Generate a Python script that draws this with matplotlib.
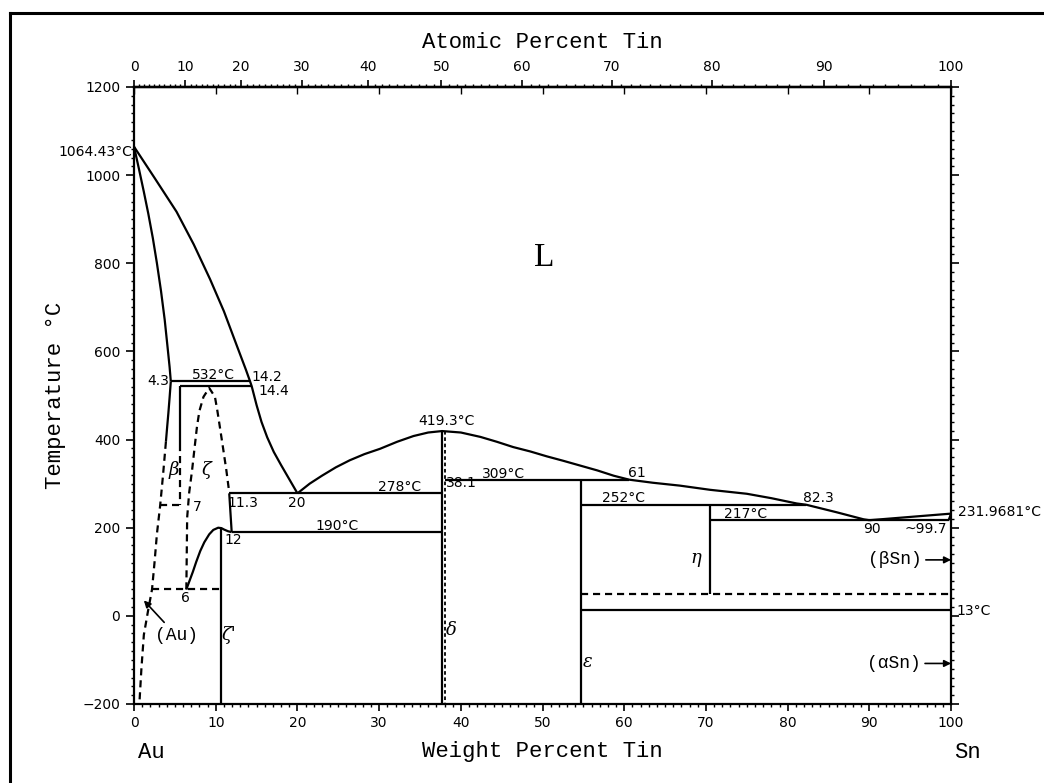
import numpy as np
import matplotlib
matplotlib.use("Agg")
import matplotlib.pyplot as plt
from matplotlib.lines import Line2D
from matplotlib.ticker import MultipleLocator

# ---- phase boundary data (weight % Sn, temperature C) ----
liq_au_wt = [0, 2.5, 5.2, 7.3, 9.3, 11.0, 12.6, 13.7, 14.2, 14.4, 15.0, 15.6,
             16.3, 17.1, 18.0, 19.0, 20.0]
liq_au_T = [1064.43, 994, 917, 843, 764, 691, 612, 558, 532, 521, 478, 440,
            405, 372, 342, 310, 278]

sol_au_wt = [0, 0.6, 1.2, 1.75, 2.3, 2.8, 3.3, 3.75, 4.1, 4.35, 4.5]
sol_au_T = [1064.43, 1014, 962, 912, 857, 800, 737, 672, 610, 565, 532]

solvus_solid_wt = [4.5, 4.35, 4.2, 4.05, 3.9]
solvus_solid_T = [532, 495, 460, 428, 395]
solvus_dash_wt = [3.9, 3.55, 3.2, 2.8, 2.5, 2.2, 1.7, 1.2, 0.9, 0.65]
solvus_dash_T = [395, 320, 251, 186, 120, 60, 10, -43, -120, -200]

beta_solid_wt = [5.6, 5.6]
beta_solid_T = [521, 391]
beta_dash_wt = [5.6, 5.6]
beta_dash_T = [391, 251]

zeta_wt = [6.4, 6.45, 6.5, 6.75, 7.1, 7.4, 7.7, 8.0, 8.5, 9.2, 9.9, 10.2,
           10.5, 10.9, 11.3, 11.65]
zeta_T = [60, 140, 223, 280, 330, 380, 429, 465, 497, 517, 497, 465,
          429, 380, 330, 280]

zeta_right_wt = [11.65, 11.95]
zeta_right_T = [278, 190]

zeta_p_wt = [6.4, 6.8, 7.2, 7.6, 8.1, 8.6, 9.2, 9.7, 10.3, 10.7, 11.0, 11.5,
             11.95]
zeta_p_T = [60, 80, 100, 122, 147, 167, 185, 195, 200, 199, 196, 192, 190]

liq_mid_wt = [20.0, 21.5, 23.0, 24.7, 26.4, 28.2, 30.1, 32.2, 34.2, 36.0,
              37.7, 40.0, 42.4, 44.4, 46.4, 48.5, 50.5, 52.5, 54.6, 56.7,
              58.7, 60.6, 63.5, 66.8, 70.5, 75.0, 78.0, 81.1, 82.3, 86.0,
              89.3, 90.0]
liq_mid_T = [278, 300, 318, 337, 353, 367, 379, 395, 408, 416,
             419.3, 416, 406, 395, 383, 373, 362, 352, 341, 330,
             318, 309, 302, 295.5, 286, 277, 267, 255, 252, 235,
             219, 217]

liq_sn_wt = [90.0, 100.0]
liq_sn_T = [217, 231.9681]
sol_sn_wt = [99.7, 100.0]
sol_sn_T = [217, 231.9681]

# horizontal invariant lines: (T, wt from, wt to)
solid_isotherms = [
    (532, 4.5, 14.2),
    (521, 5.6, 14.4),
    (278, 11.65, 37.7),
    (190, 11.95, 37.7),
    (309, 38.0, 60.6),
    (252, 54.7, 82.3),
    (217, 70.5, 99.7),
    (13, 54.7, 100.0),
]
dashed_isotherms = [
    (251, 3.2, 5.9),
    (60, 2.2, 10.65),
    (50, 54.7, 100.0),
]

# vertical phase lines: (wt, T from, T to)
solid_verticals = [
    (10.65, 198, -200),
    (37.7, 419.3, -200),
    (54.7, 309, -200),
    (70.5, 252, 50),
]
dashed_verticals = [
    (38.0, 419.3, -200),
]

# text labels (wt, T, text, ha)
num_labels = [
    (4.3, 532, "4.3", "right"),
    (9.7, 547, "532°C", "center"),
    (14.4, 543, "14.2", "left"),
    (15.2, 511, "14.4", "left"),
    (7.7, 248, "7", "center"),
    (13.3, 257, "11.3", "center"),
    (19.9, 257, "20", "center"),
    (32.5, 292, "278°C", "center"),
    (12.1, 172, "12", "center"),
    (24.8, 205, "190°C", "center"),
    (6.3, 40, "6", "center"),
    (38.3, 441, "419.3°C", "center"),
    (45.2, 323, "309°C", "center"),
    (40.1, 302, "38.1", "center"),
    (61.6, 324, "61", "center"),
    (59.9, 268, "252°C", "center"),
    (83.7, 268, "82.3", "center"),
    (74.8, 232, "217°C", "center"),
    (90.3, 197, "90", "center"),
    (99.5, 197, "~99.7", "right"),
    (100.9, 236, "231.9681°C", "left"),
    (100.7, 12, "13°C", "left"),
    (-0.2, 1052, "1064.43°C", "right"),
]
greek_labels = [
    (4.8, 330, "β"),
    (8.9, 330, "ζ"),
    (11.6, -43, "ζ'"),
    (38.8, -31, "δ"),
    (55.5, -105, "ε"),
    (68.8, 131, "η"),
]

x_ticks_wt = [0, 10, 20, 30, 40, 50, 60, 70, 80, 90, 100]
x_ticks_at = [0, 10, 20, 30, 40, 50, 60, 70, 80, 90, 100]
y_ticks = [-200, 0, 200, 400, 600, 800, 1000, 1200]

M_AU = 196.97
M_SN = 118.71


def wt2at(w):
    w = np.asarray(w, dtype=float)
    with np.errstate(divide="ignore", invalid="ignore"):
        a = w / M_SN
        b = (100 - w) / M_AU
        return 100 * a / (a + b)


def at2wt(x):
    x = np.asarray(x, dtype=float)
    with np.errstate(divide="ignore", invalid="ignore"):
        a = x * M_SN
        b = (100 - x) * M_AU
        return 100 * a / (a + b)


LW = 1.6
DASH = (0, (3.2, 2.2))
NUMFONT = "DejaVu Sans"
MONO = "Liberation Mono"

fig = plt.figure(figsize=(10.44, 7.83), dpi=100)
ax = fig.add_axes([0.1284, 0.1009, 0.7826, 0.788])

k = dict(color="black", lw=LW, solid_capstyle="butt", solid_joinstyle="round")
kd = dict(color="black", lw=LW, linestyle=DASH)

ax.plot(liq_au_wt, liq_au_T, **k)
ax.plot(sol_au_wt, sol_au_T, **k)
ax.plot(solvus_solid_wt, solvus_solid_T, **k)
ax.plot(solvus_dash_wt, solvus_dash_T, **kd)
ax.plot(beta_solid_wt, beta_solid_T, **k)
ax.plot(beta_dash_wt, beta_dash_T, **kd)
ax.plot(zeta_wt, zeta_T, **kd)
ax.plot(zeta_right_wt, zeta_right_T, **k)
ax.plot(zeta_p_wt, zeta_p_T, **k)
ax.plot(liq_mid_wt, liq_mid_T, **k)
ax.plot(liq_sn_wt, liq_sn_T, **k)
ax.plot(sol_sn_wt, sol_sn_T, **k)

for T, x0, x1 in solid_isotherms:
    ax.plot([x0, x1], [T, T], **k)
for T, x0, x1 in dashed_isotherms:
    ax.plot([x0, x1], [T, T], **kd)
for x, t0, t1 in solid_verticals:
    ax.plot([x, x], [t0, t1], **k)
for x, t0, t1 in dashed_verticals:
    ax.plot([x, x], [t0, t1], color="black", lw=1.3, linestyle=(0, (2, 1.5)))

for x, y, s, ha in num_labels:
    ax.text(x, y, s, ha=ha, va="center", fontsize=10, family=NUMFONT,
            clip_on=False)
for x, y, s in greek_labels:
    ax.text(x, y, s, ha="center", va="center", fontsize=13,
            family="DejaVu Serif", style="italic")

ax.text(50.2, 812, "L", ha="center", va="center", fontsize=24,
        family="Liberation Serif")

ax.annotate("(Au)", xy=(1.2, 35), xytext=(5.2, -45), ha="center",
            va="center", fontsize=13, family=MONO,
            arrowprops=dict(arrowstyle="-|>", color="black", lw=1.2,
                            shrinkA=2, shrinkB=0, mutation_scale=10))
ax.annotate("(βSn)", xy=(100, 127), xytext=(96.4, 127), ha="right",
            va="center", fontsize=13, family=MONO, annotation_clip=False,
            arrowprops=dict(arrowstyle="-|>", color="black", lw=1.2,
                            shrinkA=1, shrinkB=0, mutation_scale=10))
ax.annotate("(αSn)", xy=(100, -108), xytext=(96.3, -108), ha="right",
            va="center", fontsize=13, family=MONO, annotation_clip=False,
            arrowprops=dict(arrowstyle="-|>", color="black", lw=1.2,
                            shrinkA=1, shrinkB=0, mutation_scale=10))

# axes
ax.set_xlim(0, 100)
ax.set_ylim(-200, 1200)
for sp in ax.spines.values():
    sp.set_linewidth(1.6)

ax.set_xticks(x_ticks_wt)
ax.xaxis.set_minor_locator(MultipleLocator(1))
ax.set_yticks(y_ticks)
ax.yaxis.set_minor_locator(MultipleLocator(20))
ax.tick_params(axis="x", which="major", direction="out", length=5, width=1.2,
               pad=4, labelsize=10, top=False)
ax.tick_params(axis="x", which="minor", direction="out", length=2.5,
               width=1, top=False)
ax.tick_params(axis="y", which="major", direction="out", length=6, width=1.2,
               pad=4, labelsize=10, right=True)
ax.tick_params(axis="y", which="minor", direction="out", length=2.5,
               width=1, right=True)
for lab in ax.get_xticklabels() + ax.get_yticklabels():
    lab.set_family(NUMFONT)

# top: weight percent ticks pointing in
sec_wt = ax.secondary_xaxis("top", functions=(lambda x: x, lambda x: x))
sec_wt.set_xticks(x_ticks_wt)
sec_wt.tick_params(axis="x", direction="in", length=5, width=1,
                   labeltop=False)
sec_wt.spines["top"].set_linewidth(1.6)

# top: atomic percent ticks pointing out
sec_at = ax.secondary_xaxis("top", functions=(wt2at, at2wt))
sec_at.set_xticks(x_ticks_at)
sec_at.xaxis.set_minor_locator(MultipleLocator(1))
sec_at.tick_params(axis="x", which="major", direction="out", length=5,
                   width=1.2, pad=4, labelsize=10)
sec_at.tick_params(axis="x", which="minor", direction="out", length=2.5,
                   width=1)
for lab in sec_at.get_xticklabels():
    lab.set_family(NUMFONT)
sec_at.spines["top"].set_linewidth(1.6)

# axis titles
fig.text(542 / 1044, 1 - 43 / 783, "Atomic Percent Tin", ha="center",
         va="center", fontsize=16, family=MONO)
fig.text(542 / 1044, 1 - 752 / 783, "Weight Percent Tin", ha="center",
         va="center", fontsize=16, family=MONO)
fig.text(151 / 1044, 1 - 752 / 783, "Au", ha="center", va="center",
         fontsize=16, family=MONO)
fig.text(967 / 1044, 1 - 752 / 783, "Sn", ha="center", va="center",
         fontsize=16, family=MONO)
fig.text(56 / 1044, 1 - 395 / 783, "Temperature °C", ha="center",
         va="center", rotation=90, fontsize=16, family=MONO)

# outer frame (top and left edges visible in the scan)
fig.add_artist(Line2D([10 / 1044, 1.0], [1 - 13 / 783, 1 - 13 / 783],
                      color="black", lw=2.2, transform=fig.transFigure))
fig.add_artist(Line2D([10 / 1044, 10 / 1044], [1 - 13 / 783, 0.0],
                      color="black", lw=2.2, transform=fig.transFigure))

fig.savefig("out.png", dpi=100, facecolor="white")
